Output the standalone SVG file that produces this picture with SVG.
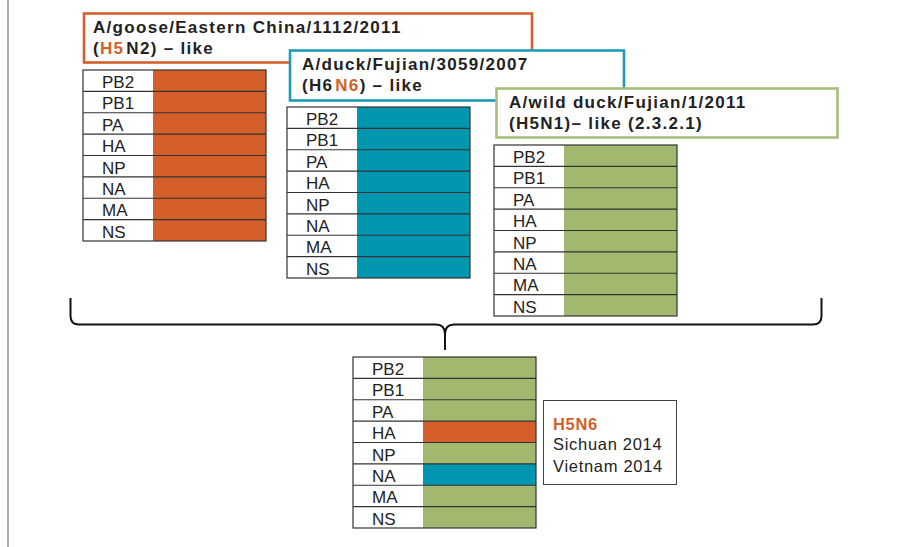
<svg xmlns="http://www.w3.org/2000/svg" width="917" height="547" viewBox="0 0 917 547">
<style>
.title{font-family:"Liberation Sans",Arial,sans-serif;font-weight:bold;font-size:17px;letter-spacing:1.3px;fill:#222}
.lbl{font-family:"Liberation Sans",Arial,sans-serif;font-size:17px;fill:#222}
.leg{font-family:"Liberation Sans",Arial,sans-serif;font-size:16.5px;letter-spacing:0.7px;fill:#222}
.or{fill:#D45F2A}
.te{fill:#0096B0}
.gr{fill:#A2B86E}
.wh{fill:#fff}
.line{stroke:#333;stroke-width:1.2;fill:none}
.box{fill:#fff;stroke-width:2.6}
</style>
<rect width="917" height="547" fill="#fff"/>
<line x1="8" y1="0" x2="8" y2="547" stroke="#999" stroke-width="1.6"/>

<defs>
<g id="rows">
<rect class="wh" x="0" y="0" width="70" height="171"/>
<g class="line">
<line x1="0" y1="21.375" x2="183" y2="21.375"/>
<line x1="0" y1="42.75" x2="183" y2="42.75"/>
<line x1="0" y1="64.125" x2="183" y2="64.125"/>
<line x1="0" y1="85.5" x2="183" y2="85.5"/>
<line x1="0" y1="106.875" x2="183" y2="106.875"/>
<line x1="0" y1="128.25" x2="183" y2="128.25"/>
<line x1="0" y1="149.625" x2="183" y2="149.625"/>
<rect x="0" y="0" width="183" height="171"/>
</g>
<g class="lbl">
<text x="19" y="18">PB2</text>
<text x="19" y="39.4">PB1</text>
<text x="19" y="60.8">PA</text>
<text x="19" y="82.1">HA</text>
<text x="19" y="103.5">NP</text>
<text x="19" y="124.9">NA</text>
<text x="19" y="146.3">MA</text>
<text x="19" y="167.6">NS</text>
</g>
</g>
</defs>

<g id="strain-goose">
<rect class="box" x="84" y="13.5" width="448" height="49" stroke="#D4602B"/>
<text class="title" x="93" y="33">A/goose/Eastern China/1112/2011</text>
<text class="title" x="93" y="54">(<tspan class="or">H5</tspan><tspan dx="2">N2) – like</tspan></text>
</g>

<g id="table-goose" transform="translate(83,70)">
<rect class="or" x="70" y="0" width="113" height="171"/>
<use href="#rows"/>
</g>

<g id="strain-duck">
<rect class="box" x="290" y="50.5" width="334" height="50" stroke="#1C9BB3"/>
<text class="title" x="302" y="70">A/duck/Fujian/3059/2007</text>
<text class="title" x="302" y="91">(H6<tspan class="or" dx="2">N6</tspan>) – like</text>
</g>

<g id="table-duck" transform="translate(287,107)">
<rect class="te" x="70" y="0" width="113" height="171"/>
<use href="#rows"/>
</g>

<g id="strain-wildduck">
<rect class="box" x="496.5" y="88.5" width="341" height="49" stroke="#A8BE7A"/>
<text class="title" x="509" y="108">A/wild duck/Fujian/1/2011</text>
<text class="title" x="509" y="129">(H5N1)– like (2.3.2.1)</text>
</g>

<g id="table-wildduck" transform="translate(494,145)">
<rect class="gr" x="70" y="0" width="113" height="171"/>
<use href="#rows"/>
</g>

<g id="connectors">
<path d="M70.5,298 L70.5,316 Q70.5,324.5 79,324.5 L436,324.5 Q445,324.5 445,334 L445,350 M445,350 L445,334 Q445,324.5 454,324.5 L813,324.5 Q821.5,324.5 821.5,316 L821.5,298" fill="none" stroke="#111" stroke-width="2"/>
</g>

<g id="table-h5n6" transform="translate(353,357)">
<rect class="gr" x="70" y="0" width="113" height="171"/>
<rect class="or" x="70" y="64.125" width="113" height="21.375"/>
<rect class="te" x="70" y="106.875" width="113" height="21.375"/>
<use href="#rows"/>
</g>

<g id="legend-h5n6">
<rect x="543.5" y="400.5" width="133" height="84" fill="#fff" stroke="#444" stroke-width="1"/>
<text class="leg" x="553" y="430" font-weight="bold" style="fill:#D45F2A">H5N6</text>
<text class="leg" x="553" y="450">Sichuan 2014</text>
<text class="leg" x="553" y="472">Vietnam 2014</text>
</g>
</svg>
